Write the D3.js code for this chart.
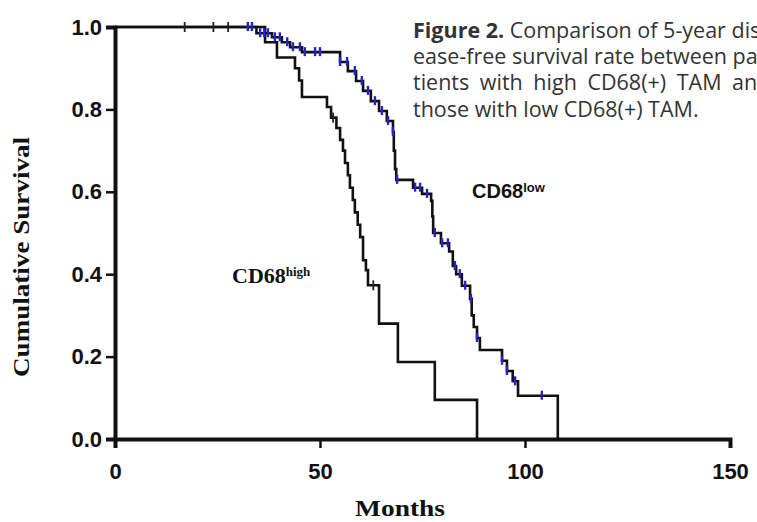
<!DOCTYPE html>
<html>
<head>
<meta charset="utf-8">
<script src="https://cdn.jsdelivr.net/npm/d3@7"></script>
<style>
  body { margin: 0; background: #fff; overflow: hidden; }
  svg { display: block; }
</style>
</head>
<body>
<svg id="chart" width="757" height="522"></svg>
<script>
// survival curves (step change points)
var highMonths   = [0, 36.6, 39.5, 43.9, 44.9, 45.6, 51.7, 52.7, 54.0, 54.9, 55.6, 56.1, 56.8, 57.3, 58.0, 58.5, 59.2, 59.8, 60.5, 61.2, 61.7, 64.4, 69.0, 78.0, 88.3];
var highSurvival = [1, 0.963, 0.926, 0.90, 0.87, 0.83, 0.806, 0.78, 0.755, 0.726, 0.70, 0.67, 0.64, 0.61, 0.58, 0.55, 0.52, 0.49, 0.434, 0.41, 0.373, 0.28, 0.187, 0.095, 0];
var highCensor   = [17, 24, 27.6, 53.2, 63];

var lowMonths   = [0, 34.5, 38.3, 40.7, 42.7, 45.6, 54.9, 56.8, 58.8, 60.5, 62.4, 64.4, 66.3, 67.8, 68.0, 68.3, 68.6, 72.7, 74.9, 77.1, 77.4, 77.6, 79.5, 81.5, 82.4, 83.2, 84.6, 86.6, 87.0, 87.5, 88.3, 89.0, 94.4, 95.6, 97.0, 98.3, 108];
var lowSurvival = [1, 0.985, 0.975, 0.963, 0.951, 0.939, 0.915, 0.893, 0.869, 0.845, 0.82, 0.796, 0.772, 0.745, 0.70, 0.655, 0.629, 0.61, 0.595, 0.578, 0.54, 0.50, 0.475, 0.455, 0.42, 0.40, 0.372, 0.34, 0.30, 0.272, 0.245, 0.216, 0.19, 0.165, 0.14, 0.105, 0];
var lowCensor   = [32.4, 33.4, 35.4, 36.4, 37.3, 39, 40.2, 42, 43.4, 45.1, 46.3, 48.8, 50, 54.9, 56.6, 58.5, 60.2, 61.7, 63.4, 65.1, 66.6, 67.8, 68.8, 73.2, 74.4, 76.1, 78, 79.8, 81.2, 82.9, 84.1, 85.4, 86.8, 88.3, 94.4, 95.6, 97.6, 104.1];

var xTicks = [0, 50, 100, 150];
var yTicks = [0, 0.2, 0.4, 0.6, 0.8, 1.0];

var captionLines = [
  "Figure 2.",
  " Comparison of 5-year dis-",
  "ease-free survival rate between pa-",
  "tients with high CD68(+) TAM and",
  "those with low CD68(+) TAM."
];

var svg = d3.select("#chart");

var x = d3.scaleLinear().domain([0, 150]).range([115, 730]);
var y = d3.scaleLinear().domain([0, 1]).range([439, 27]);

var tickFont = "'Liberation Sans', Arial, sans-serif";
var serif = "'Liberation Serif', 'Times New Roman', serif";

// axes
var yAxis = d3.axisLeft(y).tickValues(yTicks).tickFormat(d3.format(".1f")).tickSizeOuter(0).tickSize(9).tickPadding(4);
var xAxis = d3.axisBottom(x).tickValues(xTicks).tickFormat(d3.format("d")).tickSizeOuter(0).tickSize(9).tickPadding(15);

var gy = svg.append("g").attr("transform", "translate(" + x(0) + ",0)").call(yAxis);
var gx = svg.append("g").attr("transform", "translate(0," + y(0) + ")").call(xAxis);

[gx, gy].forEach(function(g) {
  g.select(".domain").attr("stroke", "#111").attr("stroke-width", 4);
  g.selectAll(".tick line").attr("stroke", "#111").attr("stroke-width", 2.5);
  g.selectAll(".tick text")
    .attr("fill", "#111")
    .style("font-family", tickFont)
    .style("font-weight", "bold")
    .style("font-size", "22px");
});

// curves
var line = d3.line()
  .x(function(d) { return x(d[0]); })
  .y(function(d) { return y(d[1]); })
  .curve(d3.curveStepAfter);

var highData = highMonths.map(function(m, i) { return [m, highSurvival[i]]; });
var lowData = lowMonths.map(function(m, i) { return [m, lowSurvival[i]]; });

svg.append("path").datum(highData)
  .attr("d", line).attr("fill", "none")
  .attr("stroke", "#111").attr("stroke-width", 2.6);

svg.append("path").datum(lowData)
  .attr("d", line).attr("fill", "none")
  .attr("stroke", "#111").attr("stroke-width", 2.6);

function survAt(months, surv, t) {
  var i = d3.bisectRight(months, t) - 1;
  return surv[Math.max(0, i)];
}

svg.append("g").selectAll("line").data(highCensor).enter()
  .append("line")
  .attr("x1", function(d) { return x(d); })
  .attr("x2", function(d) { return x(d); })
  .attr("y1", function(d) { return y(survAt(highMonths, highSurvival, d)) - 5; })
  .attr("y2", function(d) { return y(survAt(highMonths, highSurvival, d)) + 5; })
  .attr("stroke", "#222").attr("stroke-width", 1.8);

svg.append("g").selectAll("line").data(lowCensor).enter()
  .append("line")
  .attr("x1", function(d) { return x(d); })
  .attr("x2", function(d) { return x(d); })
  .attr("y1", function(d) { return y(survAt(lowMonths, lowSurvival, d)) - 5; })
  .attr("y2", function(d) { return y(survAt(lowMonths, lowSurvival, d)) + 4; })
  .attr("stroke", "#2323c8").attr("stroke-width", 2.4);

// axis titles
svg.append("text")
  .attr("transform", "translate(29,257) rotate(-90)")
  .attr("text-anchor", "middle")
  .attr("textLength", 240).attr("lengthAdjust", "spacingAndGlyphs")
  .style("font-family", serif).style("font-weight", "bold").style("font-size", "23px")
  .attr("fill", "#111")
  .text("Cumulative Survival");

svg.append("text")
  .attr("x", 400).attr("y", 516)
  .attr("text-anchor", "middle")
  .attr("textLength", 90).attr("lengthAdjust", "spacingAndGlyphs")
  .style("font-family", serif).style("font-weight", "bold").style("font-size", "23px")
  .attr("fill", "#111")
  .text("Months");

// group labels
var hi = svg.append("text")
  .attr("x", 232).attr("y", 283)
  .style("font-family", serif).style("font-weight", "bold").style("font-size", "22px")
  .attr("fill", "#111");
hi.append("tspan").text("CD68");
hi.append("tspan").attr("dy", -7).style("font-size", "13px").text("high");

var lo = svg.append("text")
  .attr("x", 472).attr("y", 198)
  .style("font-family", tickFont).style("font-weight", "bold").style("font-size", "20px")
  .attr("fill", "#111");
lo.append("tspan").text("CD68");
lo.append("tspan").attr("dy", -6).style("font-size", "13px").text("low");

// caption (runs off the right edge, as in the source)
var capFont = "'Open Sans', 'Noto Sans', sans-serif";
var cap = svg.append("g")
  .style("font-family", capFont).style("font-size", "21.5px").attr("fill", "#333");

var l1 = cap.append("text").attr("x", 413).attr("y", 38);
l1.append("tspan").style("font-weight", "bold").text(captionLines[0]);
l1.append("tspan").text(captionLines[1]);
cap.append("text").attr("x", 413).attr("y", 64).text(captionLines[2]);
cap.append("text").attr("x", 413).attr("y", 90).attr("word-spacing", 5).text(captionLines[3]);
cap.append("text").attr("x", 413).attr("y", 117).text(captionLines[4]);
</script>
</body>
</html>
